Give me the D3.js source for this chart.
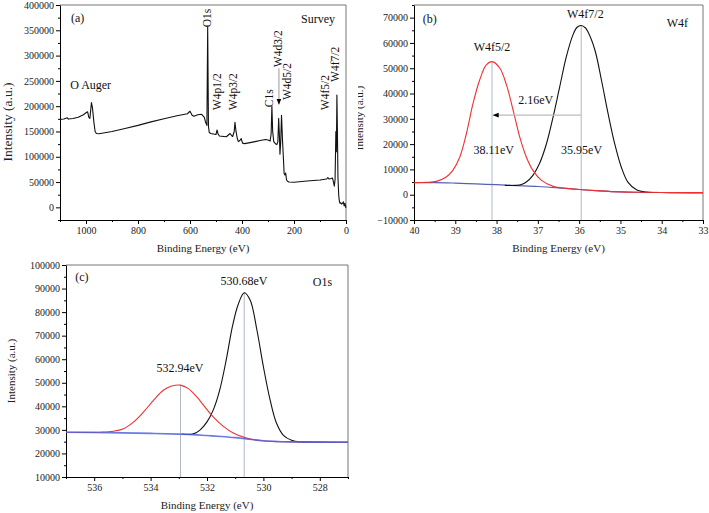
<!DOCTYPE html>
<html><head><meta charset="utf-8">
<script src="https://cdn.jsdelivr.net/npm/d3@7"></script>
<style>body{margin:0;background:#fff}svg{display:block}text{font-family:'Liberation Serif','Times New Roman',serif}</style>
</head><body><svg id="c" width="709" height="513"></svg>
<script>
// ---------- Panel (a): survey ----------
const surveyBE = [1100,1085,1072,1068,1050,1030,1010,1000,994,989,985,979,975,970,965,960,950,900,850,800,750,700,650,610,600,592,585,570,555,545,540,535,532,529,526,520,510,500,496,492,487,470,460,446,440,436,430,427,423,418,414,408,403,398,390,369,350,330,310,300,292,288,285,282,278,270,266,262,259,256,254,251,248,244,241,238,235,232,229,226,220,200,150,100,75,70,65,58,52,48,45,42,39,37,35,33,31,28,26,23,20,17,13,10,7,4,1,0];
const surveyI = [174000,174500,177000,174500,175500,178000,183000,187000,189000,178000,176000,207000,196000,170000,150000,146000,145500,150000,156000,162000,169000,175000,181000,185000,190000,182000,180000,183000,184000,178000,168000,162000,357000,160000,148000,146000,145000,144000,153000,145000,141000,140000,139500,146000,142000,140000,150000,168000,150000,136000,130000,132000,136000,127000,126000,128000,130000,132000,134000,133000,131000,145000,200000,150000,130000,125000,124000,130000,176000,140000,105000,130000,182000,130000,100000,67000,64000,68000,55000,52000,50000,49500,52000,54000,56000,59000,56000,57000,58000,50000,42000,55000,150000,110000,222000,150000,60000,24000,14000,8000,9000,6500,8000,11000,3000,8000,0,-1000];
const surveyXTicks = [1000,800,600,400,200,0];
const surveyXMinor = [1100,900,700,500,300,100];
const surveyYTicks = [0,50000,100000,150000,200000,250000,300000,350000,400000];
const surveyYMinor = [-25000,25000,75000,125000,175000,225000,275000,325000,375000];
const surveyLabels = ["O1s","W4p1/2","W4p3/2","C1s","W4d3/2","W4d5/2","W4f5/2","W4f7/2"];
const surveyLabelBE = [519,481,419,281,246,211.5,65,27];
const surveyLabelI = [356000,192000,192000,198000,277000,212000,192000,248000];

// ---------- Panel (b): W4f ----------
const w4fRedBE = [40,39.7,39.46,39.22,39.06,38.89,38.73,38.57,38.41,38.25,38.11,37.92,37.76,37.6,37.44,37.28,37.12,36.91,36.63,36.3,36.0,35.5,35.0,34.5,34.0,33.5,33.0];
const w4fRedI  = [4760,4900,5280,6990,9640,14920,24200,36100,45350,51300,52600,50000,43400,33450,22860,14920,9640,5670,3300,2500,2050,1500,1100,950,880,850,830];
const w4fBlackBE = [37.8,37.52,37.4,37.28,37.12,36.96,36.79,36.63,36.47,36.31,36.15,36.05,35.95,35.85,35.79,35.62,35.46,35.3,35.14,34.98,34.82,34.61,34.37,34.04,33.5,33.0];
const w4fBlackI  = [3700,3700,4000,5000,7650,12300,20240,30800,42700,54600,63200,66200,66900,66000,64500,57300,45350,32140,20240,10950,5000,1980,1030,850,830,820];
const w4fBgBE = [40,39.5,39,38.5,38,37.5,37,36.5,36,35.5,35,34.5,34,33.5,33];
const w4fBgI  = [4760,4800,4600,4250,3950,3600,3250,2700,2050,1500,1100,950,880,850,830];
const w4fXTicks = [40,39,38,37,36,35,34,33];
const w4fXMinor = [39.5,38.5,37.5,36.5,35.5,34.5,33.5];
const w4fYTicks = [-10000,0,10000,20000,30000,40000,50000,60000,70000];
const w4fYMinor = [-5000,5000,15000,25000,35000,45000,55000,65000,75000];
const w4fPeakBE = [38.11,35.95];
const w4fPeakI = [52600,66900];

// ---------- Panel (c): O1s ----------
const o1sRedBE = [537,536,535.79,535.32,534.96,534.61,534.25,533.9,533.55,533.25,532.94,532.66,532.36,532.07,531.78,531.42,531.07,530.6,530.12,529.65,529.2,528.5,528,527];
const o1sRedI  = [29000,28950,29000,29400,30500,33300,37600,42500,46800,48600,49000,47500,44000,39700,35500,31500,28700,26500,25500,25100,24950,24850,24800,24750];
const o1sBlackBE = [532.9,532.48,532.25,532.0,531.78,531.55,531.32,531.1,530.9,530.68,530.47,530.23,530.0,529.76,529.53,529.29,529.0,528.7,528.3,527.5,527];
const o1sBlackI  = [28200,28300,29900,33400,38400,46900,59600,73800,83000,88200,85100,72400,56800,42600,32700,27700,25600,24900,24800,24750,24700];
const o1sBgBE = [537,536,535,534,533,532.5,532,531.5,531,530.5,530,529.5,529,528,527];
const o1sBgI  = [29000,28900,28750,28500,28200,28000,27600,27200,26700,26000,25400,25100,24900,24800,24750];
const o1sXTicks = [536,534,532,530,528];
const o1sXMinor = [537,535,533,531,529,527];
const o1sYTicks = [10000,20000,30000,40000,50000,60000,70000,80000,90000,100000];
const o1sYMinor = [15000,25000,35000,45000,55000,65000,75000,85000,95000];
const o1sPeakBE = [532.94,530.68];
const o1sPeakI = [49000,88200];

const svg = d3.select("#c");
const defs = svg.append("defs");
defs.append("marker").attr("id","ah").attr("viewBox","0 0 10 10").attr("refX",9).attr("refY",5)
  .attr("markerWidth",5).attr("markerHeight",5).attr("orient","auto")
  .append("path").attr("d","M0,1L10,5L0,9Z").attr("fill","#000");
defs.append("clipPath").attr("id","clipB").append("rect").attr("x",358).attr("y",0).attr("width",351).attr("height",513);

function panel(box, xDom, yDom, xT, xM, yT, yM, yTitle) {
  const x = d3.scaleLinear().domain(xDom).range([box.x0, box.x1]);
  const y = d3.scaleLinear().domain(yDom).range([box.y1, box.y0]);
  const g = svg.append("g");
  g.append("path").attr("d",`M${box.x0},${box.y0}H${box.x1}V${box.y1}`).attr("fill","none").attr("stroke","#777").attr("stroke-width",1);
  const style = s => { s.attr("font-family","'Liberation Serif','Times New Roman',serif").attr("font-size",10);
    s.selectAll("line").attr("stroke","#000"); s.selectAll("path").attr("stroke","#000"); s.selectAll("text").attr("fill","#222"); };
  g.append("g").attr("transform",`translate(0,${box.y1})`).call(d3.axisBottom(x).tickValues(xM).tickSize(2).tickFormat("")).call(s=>s.select(".domain").remove()).call(style);
  g.append("g").attr("transform",`translate(0,${box.y1})`).call(d3.axisBottom(x).tickValues(xT).tickSize(4).tickSizeOuter(0).tickPadding(3).tickFormat(d3.format("d"))).call(style);
  g.append("g").attr("transform",`translate(${box.x0},0)`).call(d3.axisLeft(y).tickValues(yM).tickSize(2).tickFormat("")).call(s=>s.select(".domain").remove()).call(style);
  g.append("g").attr("transform",`translate(${box.x0},0)`).call(d3.axisLeft(y).tickValues(yT).tickSize(4).tickSizeOuter(0).tickPadding(2).tickFormat(d3.format("d"))).call(style);
  g.append("text").attr("x",(box.x0+box.x1)/2).attr("y",box.y1+32).attr("text-anchor","middle").attr("font-size",11).attr("fill","#222").text("Binding Energy (eV)");
  const tg = g.append("g");
  if (yTitle.clip) tg.attr("clip-path","url(#clipB)");
  tg.append("text").attr("transform",`translate(${yTitle.x},${yTitle.y}) rotate(-90)`).attr("text-anchor","middle").attr("font-size",yTitle.fs).attr("fill","#222").text("Intensity (a.u.)");
  return {x, y, g};
}
const line = (x,y,curve) => d3.line().x(d=>x(d[0])).y(d=>y(d[1])).curve(curve||d3.curveLinear);
const zip = (a,b) => a.map((v,i)=>[v,b[i]]);
const T = (g, x, y, bx, by, txt, anchor, fs) => g.append("text").attr("x",x(bx)).attr("y",y(by)).attr("text-anchor",anchor||"start").attr("font-size",fs||12).attr("fill","#111").text(txt);

// Panel A
const A = panel({x0:60,x1:346,y0:5,y1:220},[1100,0],[-25000,400000],surveyXTicks,surveyXMinor,surveyYTicks,surveyYMinor,{x:12,y:122,fs:13.5});
A.g.append("path").datum(zip(surveyBE,surveyI)).attr("d",line(A.x,A.y)).attr("fill","none").attr("stroke","#111").attr("stroke-width",1.1).attr("stroke-linejoin","round");
surveyLabels.forEach((t,i)=>{
  A.g.append("text").attr("transform",`translate(${A.x(surveyLabelBE[i])},${A.y(surveyLabelI[i])}) rotate(-90)`).attr("font-size",11.5).attr("fill","#111").text(t);
});
A.g.append("line").attr("x1",A.x(258)).attr("x2",A.x(258)).attr("y1",A.y(275000)).attr("y2",A.y(204000)).attr("stroke","#aaa").attr("stroke-width",1.2).attr("marker-end","url(#ah)");
T(A.g,A.x,A.y,1061,233000,"O Auger","start",12);
T(A.g,A.x,A.y,1058,366000,"(a)","start",12);
T(A.g,A.x,A.y,42,364000,"Survey","end",12);

// Panel B
const B = panel({x0:414,x1:703,y0:5,y1:220},[40,33],[-10000,75000],w4fXTicks,w4fXMinor,w4fYTicks,w4fYMinor,{x:363,y:118,fs:11,clip:true});
w4fPeakBE.forEach((b,i)=>B.g.append("line").attr("x1",B.x(b)).attr("x2",B.x(b)).attr("y1",B.y(-10000)).attr("y2",B.y(w4fPeakI[i])).attr("stroke","#a8b0c0").attr("stroke-width",0.9));
B.g.append("path").datum(zip(w4fBgBE,w4fBgI)).attr("d",line(B.x,B.y,d3.curveMonotoneX)).attr("fill","none").attr("stroke","#5560b8").attr("stroke-width",1.2);
B.g.append("path").datum(zip(w4fBlackBE,w4fBlackI)).attr("d",line(B.x,B.y,d3.curveCatmullRom)).attr("fill","none").attr("stroke","#111").attr("stroke-width",1.1);
B.g.append("path").datum(zip(w4fRedBE,w4fRedI)).attr("d",line(B.x,B.y,d3.curveCatmullRom)).attr("fill","none").attr("stroke","#f03030").attr("stroke-width",1.1);
B.g.append("line").attr("x1",B.x(35.95)).attr("x2",B.x(38.08)).attr("y1",B.y(31500)).attr("y2",B.y(31500)).attr("stroke","#b8bcc4").attr("stroke-width",1.2).attr("marker-end","url(#ah)");
T(B.g,B.x,B.y,39.79,68000,"(b)","start",12);
T(B.g,B.x,B.y,35.85,70000,"W4f7/2","middle",12);
T(B.g,B.x,B.y,38.11,57000,"W4f5/2","middle",12);
T(B.g,B.x,B.y,33.88,66300,"W4f","start",12);
T(B.g,B.x,B.y,37.05,36000,"2.16eV","middle",12);
T(B.g,B.x,B.y,38.07,16000,"38.11eV","middle",12);
T(B.g,B.x,B.y,35.94,16000,"35.95eV","middle",12);

// Panel C
const C = panel({x0:66,x1:348,y0:265,y1:477},[537,527],[10000,100000],o1sXTicks,o1sXMinor,o1sYTicks,o1sYMinor,{x:15,y:371,fs:11});
o1sPeakBE.forEach((b,i)=>C.g.append("line").attr("x1",C.x(b)).attr("x2",C.x(b)).attr("y1",C.y(10000)).attr("y2",C.y(o1sPeakI[i])).attr("stroke","#a8b0c0").attr("stroke-width",0.9));
C.g.append("path").datum(zip(o1sBlackBE,o1sBlackI)).attr("d",line(C.x,C.y,d3.curveCatmullRom)).attr("fill","none").attr("stroke","#111").attr("stroke-width",1.1);
C.g.append("path").datum(zip(o1sRedBE,o1sRedI)).attr("d",line(C.x,C.y,d3.curveCatmullRom)).attr("fill","none").attr("stroke","#f03030").attr("stroke-width",1.1);
C.g.append("path").datum(zip(o1sBgBE,o1sBgI)).attr("d",line(C.x,C.y,d3.curveMonotoneX)).attr("fill","none").attr("stroke","#4f63e0").attr("stroke-width",1.6).attr("stroke-opacity",0.85);
T(C.g,C.x,C.y,536.67,93200,"(c)","start",12);
T(C.g,C.x,C.y,530.69,91500,"530.68eV","middle",12);
T(C.g,C.x,C.y,532.96,54500,"532.94eV","middle",12);
T(C.g,C.x,C.y,528.25,91100,"O1s","start",12);
</script></body></html>
